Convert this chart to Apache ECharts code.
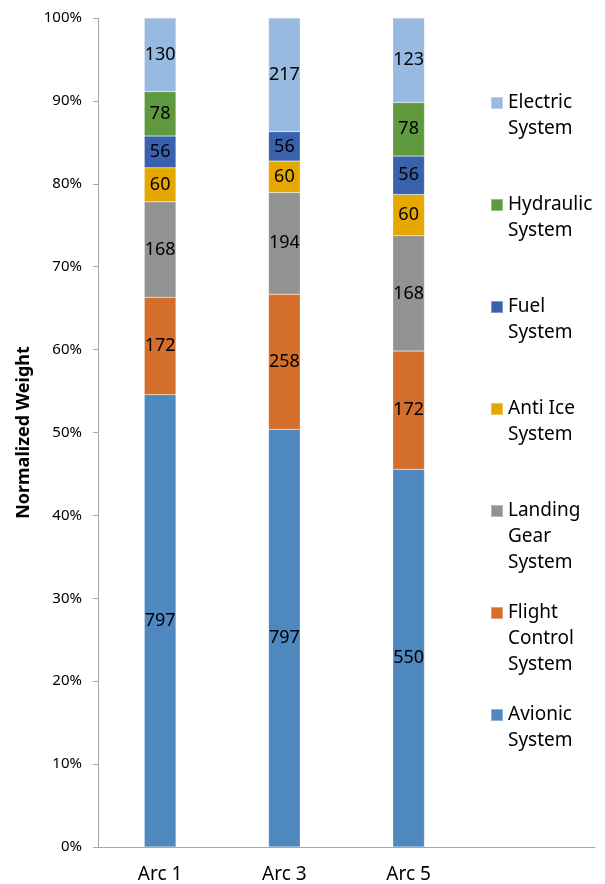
<!DOCTYPE html>
<html>
<head>
	<meta charset="utf-8">
	<title>normalized weight</title>
	<script src="https://cdn.jsdelivr.net/npm/echarts@6/dist/echarts.min.js"></script>
	<style>
		body { margin: 0; background: #fff; }
	</style>
</head>
<body>
	<div id="main" style="width: 605px; height: 884px;"></div>
	<script type="text/javascript">
		// last category is empty: the plot area runs on under the legend
		var categories = ['Arc 1', 'Arc 3', 'Arc 5', ''];
		var seriesNames = ['Avionic System', 'Flight Control System', 'Landing Gear System',
			'Anti Ice System', 'Fuel System', 'Hydraulic System', 'Electric System'];
		var legendNames = ['Avionic\nSystem', 'Flight\nControl\nSystem', 'Landing\nGear\nSystem',
			'Anti Ice\nSystem', 'Fuel\nSystem', 'Hydraulic\nSystem', 'Electric\nSystem'];
		var avionic = [797, 797, 550];
		var flightControl = [172, 258, 172];
		var landingGear = [168, 194, 168];
		var antiIce = [60, 60, 60];
		var fuel = [56, 56, 56];
		var hydraulic = [78, 0, 78];
		var electric = [130, 217, 123];
		var yTicks = ['0%', '10%', '20%', '30%', '40%', '50%', '60%', '70%', '80%', '90%', '100%'];

		var colors = ['#4f88be', '#d46f2b', '#929292', '#e4a800', '#3a62ac', '#5f9a3f', '#98b9e0'];
		var raw = [avionic, flightControl, landingGear, antiIce, fuel, hydraulic, electric];

		var totals = categories.map(function (c, i) {
			var s = 0;
			raw.forEach(function (r) { s += (r[i] || 0); });
			return s;
		});

		var font = 'Noto Sans';
		var series = raw.map(function (vals, k) {
			return {
				name: seriesNames[k],
				type: 'bar',
				stack: 'all',
				barWidth: '25.5%',
				itemStyle: { color: colors[k], borderColor: 'rgba(255,255,255,0.35)', borderWidth: 0.5 },
				label: {
					show: true,
					color: '#000',
					fontFamily: font,
					fontSize: 18,
					formatter: function (p) { return vals[p.dataIndex]; }
				},
				data: categories.map(function (c, i) {
					if (vals[i] === undefined || vals[i] === 0) return null;
					return vals[i] / totals[i] * 100;
				})
			};
		});

		// one legend per entry; blank leading lines put the icon by the first text line
		var legendCenters = [714, 612, 510, 408, 306, 204, 102];
		var legends = seriesNames.map(function (name, k) {
			var n = legendNames[k].split('\n').length;
			var pad = new Array(n).join(' \n');
			return {
				orient: 'vertical',
				left: 490,
				top: legendCenters[k] - 13 * (2 * n - 1) + 1,
				padding: 0,
				itemWidth: 12,
				itemHeight: 12,
				icon: 'rect',
				selectedMode: false,
				data: [name],
				formatter: function () { return pad + legendNames[k]; },
				textStyle: { fontFamily: font, fontSize: 19, lineHeight: 26, color: '#000' }
			};
		});

		var myChart = echarts.init(document.getElementById('main'));
		var option = {
			animation: false,
			color: colors,
			legend: legends,
			grid: { left: 98, right: 10, top: 18, bottom: 36, containLabel: false },
			xAxis: {
				type: 'category',
				data: categories,
				axisLine: { lineStyle: { color: '#a6a6a6' } },
				axisTick: { show: false },
				axisLabel: { color: '#000', fontFamily: font, fontSize: 19, margin: 18 }
			},
			yAxis: {
				type: 'value',
				min: 0,
				max: 100,
				interval: 10,
				name: 'Normalized Weight',
				nameLocation: 'center',
				nameGap: 56,
				nameTextStyle: { color: '#000', fontFamily: font, fontSize: 18, fontWeight: 'bold' },
				axisLine: { show: true, lineStyle: { color: '#a6a6a6' } },
				axisTick: { show: true, length: 5, lineStyle: { color: '#a6a6a6' } },
				splitLine: { show: false },
				axisLabel: {
					color: '#000', fontFamily: font, fontSize: 15, margin: 16,
					formatter: function (v) { return yTicks[Math.round(v / 10)]; }
				}
			},
			series: series
		};
		myChart.setOption(option);
	</script>
</body>
</html>
